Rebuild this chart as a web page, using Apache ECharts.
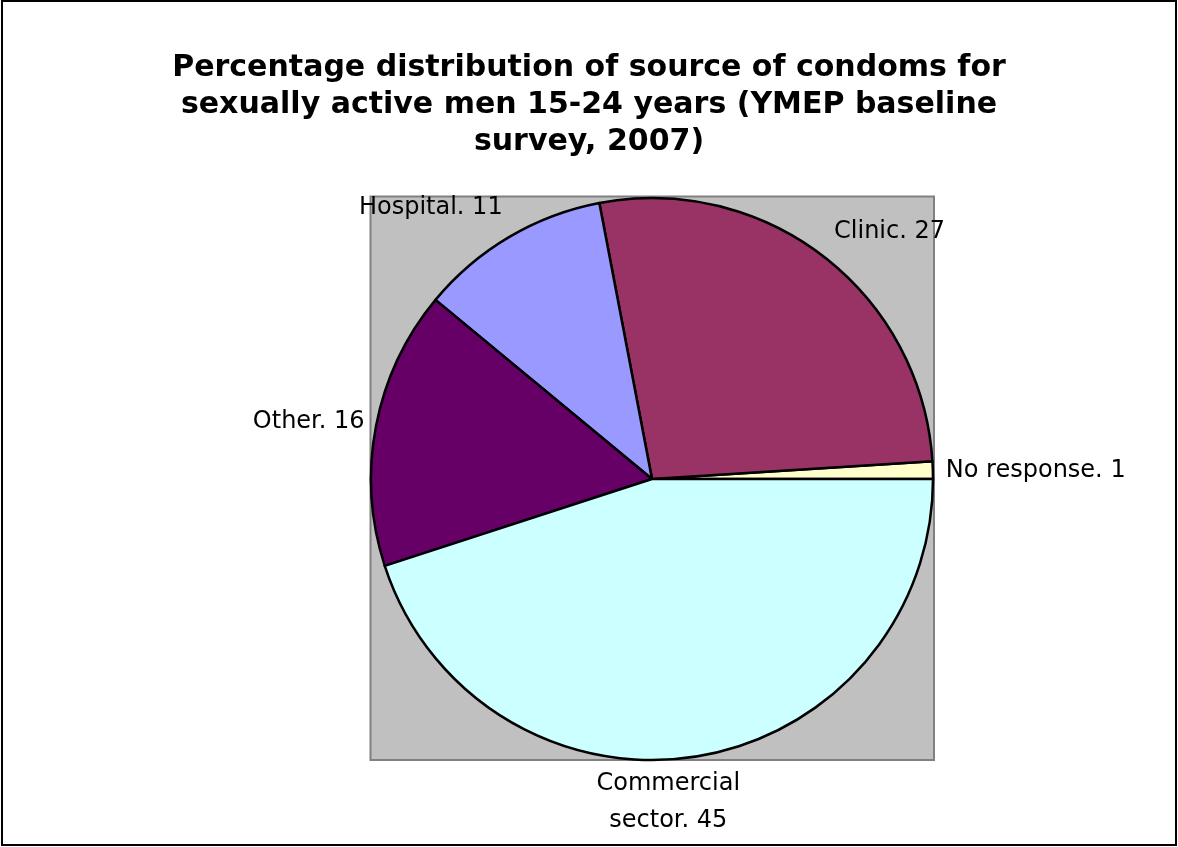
<!DOCTYPE html>
<html>
<head>
<meta charset="utf-8">
<script src="https://cdn.jsdelivr.net/npm/echarts@6/dist/echarts.min.js"></script>
<style>
html,body{margin:0;padding:0;background:#fff;}
#chart{width:1178px;height:847px;}
</style>
</head>
<body>
<div id="chart"></div>
<script>
// Data
const categories = ['No response', 'Clinic', 'Hospital', 'Other', 'Commercial sector'];
const values = [1, 27, 11, 16, 45];
const colors = ['#FFFFCC', '#993366', '#9999FF', '#660066', '#CCFFFF'];
const titleText = 'Percentage distribution of source of condoms for\nsexually active men 15-24 years (YMEP baseline\nsurvey, 2007)';

// Layout
const W = 1178, H = 847;
const cx = 652, cy = 479, R = 281;
const FONT = '"DejaVu Sans", Verdana, sans-serif';
// label nudges (style only, by category)
const labelNudge = {
  'No response': {dx: -26, dy: 2},
  'Clinic': {dx: -16, dy: 2},
  'Hospital': {dx: 16, dy: 0},
  'Other': {dx: 27, dy: 2},
  'Commercial sector': {dx: -38, dy: 12, align: 'center'}
};

const chart = echarts.init(document.getElementById('chart'), null, {renderer: 'canvas'});

const data = categories.map((c, i) => {
  const item = {name: c, value: values[i], itemStyle: {color: colors[i]}};
  if (c === 'Commercial sector') {
    item.label = {formatter: 'Commercial\nsector. {c}'};
  }
  return item;
});

chart.setOption({
  animation: false,
  backgroundColor: '#ffffff',
  title: {
    text: titleText,
    left: W / 2,
    top: 50,
    textAlign: 'center',
    padding: 0,
    textStyle: {
      fontFamily: FONT,
      fontWeight: 'bold',
      fontSize: 30,
      lineHeight: 37,
      color: '#000'
    }
  },
  graphic: [
    {
      type: 'rect', z: -10, silent: true,
      shape: {x: 2, y: 1, width: W - 4, height: H - 3},
      style: {fill: '#fff', stroke: '#000', lineWidth: 2}
    },
    {
      type: 'rect', z: -5, silent: true,
      shape: {x: cx - R - 0.5, y: cy - R - 1.5, width: 2 * R + 1.5, height: 2 * R + 1.5},
      style: {fill: '#C0C0C0', stroke: '#808080', lineWidth: 2}
    }
  ],
  series: [{
    type: 'pie',
    center: [cx, cy],
    radius: [0, R],
    startAngle: 0,
    clockwise: false,
    minAngle: 0,
    avoidLabelOverlap: false,
    data: data,
    itemStyle: {borderColor: '#000', borderWidth: 2.5},
    label: {
      show: true,
      position: 'outside',
      formatter: '{b}. {c}',
      fontFamily: FONT,
      fontSize: 24,
      color: '#000',
      lineHeight: 37
    },
    labelLine: {show: false, length: 34, length2: 0},
    labelLayout: function (params) {
      const n = labelNudge[categories[params.dataIndex]] || {};
      const out = {dx: n.dx || 0, dy: n.dy || 0};
      if (n.align) out.align = n.align;
      return out;
    },
    emphasis: {disabled: true}
  }]
});
</script>
</body>
</html>
